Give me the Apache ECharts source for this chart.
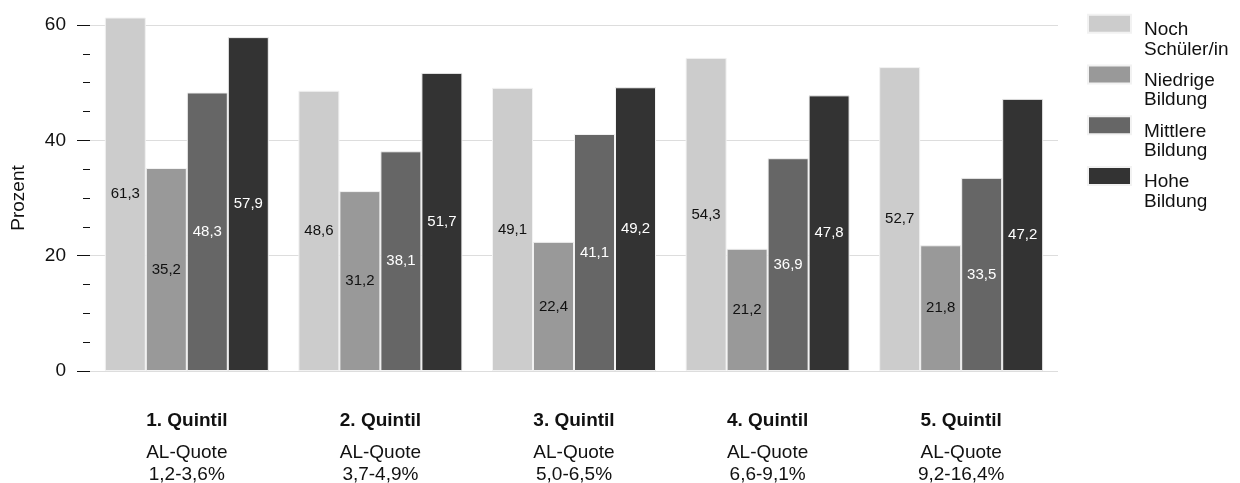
<!DOCTYPE html>
<html>
<head>
<meta charset="utf-8">
<script src="https://cdn.jsdelivr.net/npm/echarts@6/dist/echarts.min.js"></script>
<style>
  html, body { margin: 0; padding: 0; background: #fff; }
  #chart { width: 1240px; height: 483px; }
</style>
</head>
<body>
<div id="chart"></div>
<script>
var categories = ['1. Quintil', '2. Quintil', '3. Quintil', '4. Quintil', '5. Quintil'];
var quoteRanges = ['1,2-3,6%', '3,7-4,9%', '5,0-6,5%', '6,6-9,1%', '9,2-16,4%'];
var seriesNames = ['Noch Schüler/in', 'Niedrige Bildung', 'Mittlere Bildung', 'Hohe Bildung'];
var legendLines = [['Noch', 'Schüler/in'], ['Niedrige', 'Bildung'], ['Mittlere', 'Bildung'], ['Hohe', 'Bildung']];
var nochSchueler = [61.3, 48.6, 49.1, 54.3, 52.7];
var niedrigeBildung = [35.2, 31.2, 22.4, 21.2, 21.8];
var mittlereBildung = [48.3, 38.1, 41.1, 36.9, 33.5];
var hoheBildung = [57.9, 51.7, 49.2, 47.8, 47.2];
var yTicks = [0, 20, 40, 60];

var values = [nochSchueler, niedrigeBildung, mittlereBildung, hoheBildung];
var colors = ['#cccccc', '#999999', '#666666', '#333333'];
var labelColors = ['#111111', '#111111', '#ffffff', '#ffffff'];
var FONT = '"Liberation Sans", Arial, Helvetica, sans-serif';

var chart = echarts.init(document.getElementById('chart'), null, { renderer: 'canvas' });

var series = values.map(function (arr, i) {
  return {
    name: seriesNames[i],
    type: 'bar',
    data: arr,
    barWidth: 41,
    barGap: '0%',
    clip: false,
    itemStyle: { color: colors[i], borderColor: '#f2f2f2', borderWidth: 1 },
    label: {
      show: true,
      position: 'inside',
      color: labelColors[i],
      fontFamily: FONT,
      fontSize: 15,
      formatter: function (p) { return p.value.toFixed(1).replace('.', ','); }
    },
    emphasis: { disabled: true },
    animation: false
  };
});

var legendMap = {};
seriesNames.forEach(function (n, i) {
  legendMap[n] = '{s| }\n{t|' + legendLines[i][0] + '}\n{t|' + legendLines[i][1] + '}';
});

chart.setOption({
  backgroundColor: '#ffffff',
  animation: false,
  color: colors,
  grid: { left: 90, right: 182, top: 25, bottom: 112, containLabel: false, outerBoundsMode: 'none' },
  legend: {
    orient: 'vertical',
    left: 1087,
    top: -5.25,
    padding: 0,
    itemGap: -13.5,
    itemWidth: 43,
    itemHeight: 18,
    icon: 'rect',
    selectedMode: false,
    data: seriesNames,
    formatter: function (n) { return legendMap[n]; },
    textStyle: {
      fontFamily: FONT,
      fontSize: 19,
      color: '#111111',
      padding: [0, 0, 0, 8],
      rich: {
        s: { fontFamily: FONT, fontSize: 19, lineHeight: 32 },
        t: { fontFamily: FONT, fontSize: 19, lineHeight: 19.5, color: '#111111' }
      }
    }
  },
  xAxis: {
    type: 'category',
    data: categories,
    axisLine: { show: false },
    axisTick: { show: false },
    axisLabel: {
      margin: 49,
      interval: 0,
      formatter: function (v, idx) {
        return '{b|' + v + '}\n{n|AL-Quote}\n{n|' + quoteRanges[idx] + '}';
      },
      rich: {
        b: { fontFamily: FONT, fontSize: 19, fontWeight: 'bold', color: '#111111', lineHeight: 22, padding: [0, 0, 20, 0] },
        n: { fontFamily: FONT, fontSize: 19, color: '#111111', lineHeight: 22 }
      }
    }
  },
  yAxis: {
    type: 'value',
    min: yTicks[0],
    max: yTicks[yTicks.length - 1],
    interval: 20,
    name: 'Prozent',
    nameLocation: 'middle',
    nameRotate: 90,
    nameGap: 62,
    nameTextStyle: { fontFamily: FONT, fontSize: 19, color: '#111111' },
    axisLine: { show: false },
    axisTick: { show: true, length: 13, lineStyle: { color: '#111111', width: 1 } },
    minorTick: { show: true, splitNumber: 4, length: 7, lineStyle: { color: '#111111', width: 1 } },
    axisLabel: { fontFamily: FONT, fontSize: 19, color: '#111111', margin: 24 },
    splitLine: { show: true, lineStyle: { color: '#dddddd', width: 1 } },
    minorSplitLine: { show: false }
  },
  series: series
});
</script>
</body>
</html>
